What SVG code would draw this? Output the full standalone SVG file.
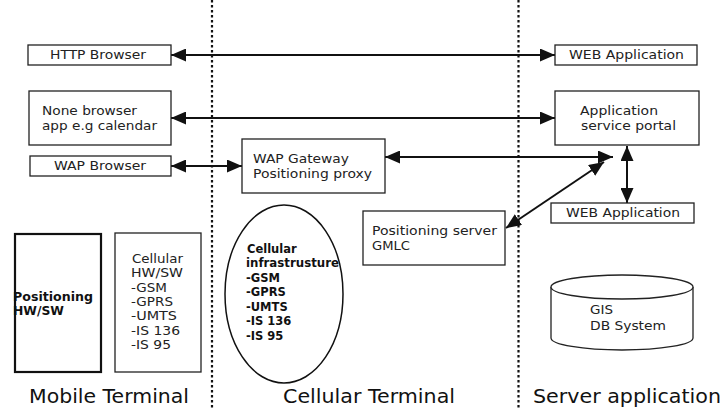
<svg xmlns="http://www.w3.org/2000/svg" width="724" height="408" viewBox="0 0 724 408">
<style>
.box{fill:#fff;stroke:#222;stroke-width:1.3}
.t{font-family:"DejaVu Sans",sans-serif;font-size:11.5px;fill:#222}
.b{font-family:"DejaVu Sans",sans-serif;font-size:11.5px;font-weight:bold;fill:#111}
.big{font-family:"DejaVu Sans",sans-serif;font-size:19px;fill:#111}
.sep{stroke:#111;stroke-width:2.2;stroke-dasharray:2.5,2.5;fill:none}
.c{stroke:#111;stroke-width:2;fill:none;marker-start:url(#as);marker-end:url(#ae)}
</style>
<defs>
<marker id="ae" viewBox="0 0 15 13" refX="15" refY="6.5" markerWidth="15" markerHeight="13" markerUnits="userSpaceOnUse" orient="auto"><path d="M0,0 L15,6.5 L0,13 Z" fill="#111"/></marker>
<marker id="as" viewBox="0 0 15 13" refX="0" refY="6.5" markerWidth="15" markerHeight="13" markerUnits="userSpaceOnUse" orient="auto"><path d="M15,0 L0,6.5 L15,13 Z" fill="#111"/></marker>
</defs>
<rect width="724" height="408" fill="#fff"/>
<g id="separators">
<line class="sep" x1="212" y1="0" x2="212" y2="408"/>
<line class="sep" x1="518.5" y1="0" x2="518.5" y2="408"/>
</g>
<g id="connectors">
<line class="c" x1="171" y1="55" x2="555" y2="55"/>
<line class="c" x1="171" y1="118" x2="555" y2="118"/>
<line class="c" x1="171" y1="166" x2="242" y2="166"/>
<line class="c" x1="385" y1="157" x2="613" y2="157"/>
<line class="c" x1="627" y1="146" x2="627" y2="203"/>
<line class="c" x1="506" y1="228" x2="604" y2="162"/>
</g>
<g id="http-browser"><rect class="box" x="28" y="45" width="143" height="20"/><text class="t" x="50" y="59" textLength="96" lengthAdjust="spacingAndGlyphs">HTTP Browser</text></g>
<g id="none-browser"><rect class="box" x="29" y="91" width="142" height="54"/><text class="t" x="42" y="115" textLength="95" lengthAdjust="spacingAndGlyphs">None browser</text><text class="t" x="42" y="130" textLength="115" lengthAdjust="spacingAndGlyphs">app e.g calendar</text></g>
<g id="wap-browser"><rect class="box" x="30" y="156" width="141" height="20"/><text class="t" x="54" y="170" textLength="92" lengthAdjust="spacingAndGlyphs">WAP Browser</text></g>
<g id="wap-gateway"><rect class="box" x="242" y="139" width="143" height="54"/><text class="t" x="253" y="163" textLength="96" lengthAdjust="spacingAndGlyphs">WAP Gateway</text><text class="t" x="253" y="178" textLength="119" lengthAdjust="spacingAndGlyphs">Positioning proxy</text></g>
<g id="web-app-1"><rect class="box" x="555" y="45" width="142" height="20"/><text class="t" x="569" y="59" textLength="115" lengthAdjust="spacingAndGlyphs">WEB Application</text></g>
<g id="app-portal"><rect class="box" x="555" y="91" width="144" height="54"/><text class="t" x="580" y="115" textLength="78" lengthAdjust="spacingAndGlyphs">Application</text><text class="t" x="581" y="130" textLength="95" lengthAdjust="spacingAndGlyphs">service portal</text></g>
<g id="web-app-2"><rect class="box" x="551" y="203" width="143" height="20"/><text class="t" x="566" y="217" textLength="114" lengthAdjust="spacingAndGlyphs">WEB Application</text></g>
<g id="positioning-server"><rect class="box" x="363" y="211" width="142" height="54"/><text class="t" x="372" y="235" textLength="125" lengthAdjust="spacingAndGlyphs">Positioning server</text><text class="t" x="372" y="250" textLength="38" lengthAdjust="spacingAndGlyphs">GMLC</text></g>
<g id="positioning-hw"><rect x="15" y="234" width="86" height="138" fill="#fff" stroke="#111" stroke-width="2.2"/><text class="b" x="13" y="301" textLength="80" lengthAdjust="spacingAndGlyphs">Positioning</text><text class="b" x="13" y="315" textLength="51" lengthAdjust="spacingAndGlyphs">HW/SW</text></g>
<g id="cellular-hw"><rect class="box" x="115" y="233" width="86" height="139"/><text class="t" x="132" y="263" textLength="51" lengthAdjust="spacingAndGlyphs">Cellular</text><text class="t" x="131" y="277" textLength="52" lengthAdjust="spacingAndGlyphs">HW/SW</text><text class="t" x="131" y="292" textLength="36" lengthAdjust="spacingAndGlyphs">-GSM</text><text class="t" x="131" y="306" textLength="42" lengthAdjust="spacingAndGlyphs">-GPRS</text><text class="t" x="131" y="320" textLength="46" lengthAdjust="spacingAndGlyphs">-UMTS</text><text class="t" x="131" y="335" textLength="49" lengthAdjust="spacingAndGlyphs">-IS 136</text><text class="t" x="131" y="349" textLength="40" lengthAdjust="spacingAndGlyphs">-IS 95</text></g>
<g id="cellular-infra"><ellipse cx="284" cy="294" rx="59" ry="89" fill="#fff" stroke="#111" stroke-width="1.5"/><text class="b" x="247" y="253">Cellular</text><text class="b" x="246" y="267" textLength="93" lengthAdjust="spacingAndGlyphs">infrastrusture</text><text class="b" x="246" y="282">-GSM</text><text class="b" x="246" y="296">-GPRS</text><text class="b" x="246" y="311">-UMTS</text><text class="b" x="246" y="325">-IS 136</text><text class="b" x="246" y="340">-IS 95</text></g>
<g id="gis-db"><path d="M551,287 L551,338 A71,12 0 0 0 693,338 L693,287" fill="#fff" stroke="#222" stroke-width="1.3"/><ellipse cx="622" cy="287" rx="71" ry="12" fill="#fff" stroke="#222" stroke-width="1.3"/><text class="t" x="590" y="314" textLength="23" lengthAdjust="spacingAndGlyphs">GIS</text><text class="t" x="590" y="330" textLength="76" lengthAdjust="spacingAndGlyphs">DB System</text></g>
<g id="labels"><text class="big" x="29" y="403" textLength="160" lengthAdjust="spacingAndGlyphs">Mobile Terminal</text><text class="big" x="283" y="403" textLength="172" lengthAdjust="spacingAndGlyphs">Cellular Terminal</text><text class="big" x="533" y="403" textLength="188" lengthAdjust="spacingAndGlyphs">Server application</text></g>
</svg>
